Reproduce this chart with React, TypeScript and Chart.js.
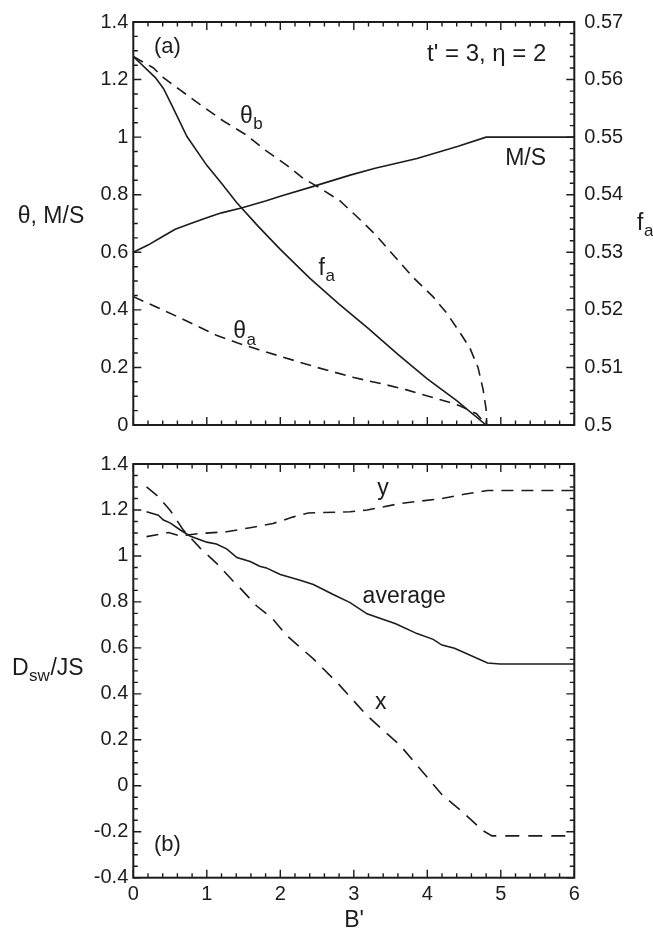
import React, { useEffect, useRef } from "react";
import { Chart, registerables } from "chart.js";
Chart.register(...registerables);

// ---------- Panel (a) data ----------
const msB = [0, 0.2, 0.4, 0.57, 0.8, 1.0, 1.2, 1.47, 1.81, 2.0, 2.45, 2.95, 3.29, 3.86, 4.42, 4.8, 6];
const msVal = [0.6, 0.625, 0.655, 0.68, 0.702, 0.72, 0.737, 0.754, 0.779, 0.795, 0.829, 0.868, 0.892, 0.926, 0.968, 1.0, 1.0];

const faB = [0, 0.3, 0.41, 0.52, 0.73, 1.0, 1.2, 1.4, 1.7, 2.0, 2.4, 2.8, 3.2, 3.6, 4.0, 4.4, 4.8, 6];
const faVal = [0.564, 0.56035, 0.55845, 0.55565, 0.5501, 0.5451, 0.542, 0.53875, 0.5345, 0.5305, 0.5255, 0.521, 0.51675, 0.51225, 0.508, 0.50425, 0.5, 0.5];

const thbB = [0, 0.27, 0.41, 0.64, 0.91, 1.22, 1.54, 1.81, 2.09, 2.31, 2.54, 2.81, 3.1, 3.3, 3.54, 3.81, 4.08, 4.26, 4.44, 4.58, 4.69, 4.76, 4.8, 4.81, 6];
const thbVal = [1.28, 1.241, 1.207, 1.163, 1.113, 1.057, 1.007, 0.952, 0.902, 0.857, 0.823, 0.779, 0.71, 0.66, 0.59, 0.512, 0.445, 0.39, 0.323, 0.267, 0.2, 0.122, 0.055, 0, 0];

const thaB = [0, 0.57, 1.13, 1.42, 1.7, 2.5, 3.0, 3.45, 3.72, 4.04, 4.31, 4.44, 4.67, 4.8, 6];
const thaVal = [0.446, 0.38, 0.312, 0.285, 0.262, 0.2, 0.165, 0.139, 0.122, 0.098, 0.078, 0.067, 0.039, 0, 0];

// ---------- Panel (b) data ----------
const avgB = [0.18, 0.34, 0.41, 0.5, 0.64, 0.77, 1.0, 1.13, 1.27, 1.41, 1.59, 1.72, 1.81, 2.0, 2.27, 2.45, 2.72, 2.95, 3.18, 3.57, 3.86, 4.08, 4.2, 4.37, 4.82, 4.99, 6];
const avgVal = [1.192, 1.177, 1.156, 1.144, 1.113, 1.087, 1.06, 1.052, 1.031, 0.993, 0.976, 0.955, 0.948, 0.919, 0.894, 0.876, 0.832, 0.797, 0.748, 0.705, 0.662, 0.637, 0.612, 0.598, 0.534, 0.53, 0.53];

const xB = [0.18, 0.32, 0.5, 0.68, 0.91, 1.13, 1.36, 1.45, 1.68, 1.9, 2.09, 2.45, 2.8, 3.18, 3.63, 4.2, 4.5, 4.76, 4.88, 6];
const xVal = [1.3, 1.264, 1.199, 1.113, 1.034, 0.969, 0.89, 0.861, 0.782, 0.725, 0.653, 0.552, 0.44, 0.305, 0.176, -0.039, -0.12, -0.196, -0.218, -0.218];

const yB = [0.18, 0.48, 0.64, 0.91, 1.27, 1.59, 1.9, 2.18, 2.38, 2.95, 3.18, 3.63, 4.2, 4.5, 4.82, 6];
const yVal = [1.084, 1.102, 1.087, 1.098, 1.105, 1.123, 1.141, 1.17, 1.187, 1.192, 1.2, 1.228, 1.25, 1.268, 1.285, 1.285];

// ---------- axes ----------
const xRange = [0, 6];
const topLeftRange = [0, 1.4];
const topRightRange = [0.5, 0.57];
const botLeftRange = [-0.4, 1.4];

const FONT = '"Liberation Sans", Arial, Helvetica, sans-serif';
const INK = "#1c1c1c";

const pts = (xs: number[], ys: number[]) => xs.map((x, i) => ({ x, y: ys[i] }));
const fmt = (v: any) => String(Math.round(Number(v) * 1000) / 1000);

type Label = { text: string; sub?: string; tail?: string; x: number; y: number; data?: boolean; size: number; align?: CanvasTextAlign; axis?: string };

function textPlugin(labels: Label[]) {
  return {
    id: "texts",
    afterDraw(chart: any) {
      const ctx = chart.ctx as CanvasRenderingContext2D;
      ctx.save();
      ctx.fillStyle = INK;
      ctx.textBaseline = "alphabetic";
      for (const l of labels) {
        let px = l.x, py = l.y;
        if (l.data) {
          px = chart.scales.x.getPixelForValue(l.x);
          py = chart.scales[l.axis || "y"].getPixelForValue(l.y);
        }
        ctx.font = `${l.size}px ${FONT}`;
        const wMain = ctx.measureText(l.text).width;
        const subSize = Math.round(l.size * 0.72);
        ctx.font = `${subSize}px ${FONT}`;
        const wSub = l.sub ? ctx.measureText(l.sub).width : 0;
        ctx.font = `${l.size}px ${FONT}`;
        const wTail = l.tail ? ctx.measureText(l.tail).width : 0;
        const total = wMain + wSub + wTail;
        let x0 = px;
        if (l.align === "center") x0 = px - total / 2;
        else if (l.align === "right") x0 = px - total;
        ctx.textAlign = "left";
        ctx.font = `${l.size}px ${FONT}`;
        ctx.fillText(l.text, x0, py);
        if (l.sub) {
          ctx.font = `${subSize}px ${FONT}`;
          ctx.fillText(l.sub, x0 + wMain + 0.5, py + l.size * 0.28);
        }
        if (l.tail) {
          ctx.font = `${l.size}px ${FONT}`;
          ctx.fillText(l.tail, x0 + wMain + wSub + 1, py);
        }
      }
      ctx.restore();
    },
  };
}

function framePlugin(rightAxis: string) {
  return {
    id: "frame",
    afterDraw(chart: any) {
      const ctx = chart.ctx as CanvasRenderingContext2D;
      const a = chart.chartArea;
      const sx = chart.scales.x;
      const sy = chart.scales.y;
      const sr = chart.scales[rightAxis];
      ctx.save();
      ctx.strokeStyle = INK;
      ctx.lineWidth = 1.4;
      ctx.beginPath();
      const MAJ = 8, MIN = 4.5;
      const nx = Math.round((sx.max - sx.min) / 0.2);
      for (let i = 0; i <= nx; i++) {
        const p = sx.getPixelForValue(sx.min + i * 0.2);
        const len = i % 5 === 0 ? MAJ : MIN;
        ctx.moveTo(p, a.bottom); ctx.lineTo(p, a.bottom - len);
        ctx.moveTo(p, a.top); ctx.lineTo(p, a.top + len);
      }
      const ny = Math.round((sy.max - sy.min) / 0.05);
      for (let i = 0; i <= ny; i++) {
        const p = sy.getPixelForValue(sy.min + i * 0.05);
        const len = i % 4 === 0 ? MAJ : MIN;
        ctx.moveTo(a.left, p); ctx.lineTo(a.left + len, p);
        if (rightAxis === "y") { ctx.moveTo(a.right, p); ctx.lineTo(a.right - len, p); }
      }
      if (rightAxis !== "y") {
        const nr = Math.round((sr.max - sr.min) / 0.002);
        for (let i = 0; i <= nr; i++) {
          const p = sr.getPixelForValue(sr.min + i * 0.002);
          const len = i % 5 === 0 ? MAJ : MIN;
          ctx.moveTo(a.right, p); ctx.lineTo(a.right - len, p);
        }
      }
      ctx.stroke();
      ctx.lineWidth = 2;
      ctx.strokeRect(a.left, a.top, a.right - a.left, a.bottom - a.top);
      ctx.restore();
    },
  };
}

const tickFont = { family: FONT, size: 20 };

function lineDs(data: any[], dash: number[], axis = "y") {
  return {
    data,
    yAxisID: axis,
    borderColor: INK,
    borderWidth: 1.6,
    borderDash: dash,
    pointRadius: 0,
    tension: 0,
    fill: false,
  };
}

export default function App() {
  const topRef = useRef<HTMLCanvasElement>(null);
  const botRef = useRef<HTMLCanvasElement>(null);

  useEffect(() => {
    const topLabels: Label[] = [
      { text: "(a)", x: 0.28, y: 1.294, data: true, size: 22 },
      { text: "t' = 3, η = 2", x: 5.62, y: 1.266, data: true, size: 24, align: "right" },
      { text: "θ", sub: "b", x: 1.45, y: 1.049, data: true, size: 23 },
      { text: "M/S", x: 5.06, y: 0.904, data: true, size: 23 },
      { text: "f", sub: "a", x: 2.52, y: 0.522, data: true, size: 23 },
      { text: "θ", sub: "a", x: 1.36, y: 0.301, data: true, size: 23 },
      { text: "θ, M/S", x: 51, y: 223, size: 23, align: "center" },
      { text: "f", sub: "a", x: 637, y: 230, size: 23 },
    ];
    const botLabels: Label[] = [
      { text: "y", x: 3.32, y: 1.267, data: true, size: 23 },
      { text: "average", x: 3.12, y: 0.794, data: true, size: 23 },
      { text: "x", x: 3.29, y: 0.333, data: true, size: 23 },
      { text: "(b)", x: 0.28, y: -0.283, data: true, size: 22 },
      { text: "D", sub: "sw", tail: "/JS", x: 12, y: 228, size: 23 },
      { text: "B'", x: 354, y: 480, size: 23, align: "center" },
    ];

    const top = new Chart(topRef.current!, {
      type: "line",
      data: {
        datasets: [
          lineDs(pts(msB, msVal), []),
          lineDs(pts(faB, faVal), [], "y1"),
          lineDs(pts(thbB, thbVal), [11, 7]),
          lineDs(pts(thaB, thaVal), [11, 7]),
        ] as any,
      },
      options: {
        animation: false,
        responsive: false,
        events: [],
        layout: { padding: { top: 14, bottom: 13.7, left: 0, right: 0 } },
        plugins: { legend: { display: false }, tooltip: { enabled: false } },
        scales: {
          x: { type: "linear", min: xRange[0], max: xRange[1], display: false },
          y: {
            type: "linear", position: "left", min: topLeftRange[0], max: topLeftRange[1],
            grid: { display: false, drawTicks: false }, border: { display: false },
            ticks: { stepSize: 0.2, font: tickFont, color: INK, padding: 5, callback: fmt },
            afterFit: (s: any) => { s.width = 133.3; },
          },
          y1: {
            type: "linear", position: "right", min: topRightRange[0], max: topRightRange[1],
            grid: { display: false, drawTicks: false }, border: { display: false },
            ticks: { stepSize: 0.01, font: tickFont, color: INK, padding: 10, callback: fmt },
            afterFit: (s: any) => { s.width = 78.7; },
          },
        },
      } as any,
      plugins: [framePlugin("y1"), textPlugin(topLabels)],
    });

    const bot = new Chart(botRef.current!, {
      type: "line",
      data: {
        datasets: [
          lineDs(pts(avgB, avgVal), []),
          lineDs(pts(xB, xVal), [14, 9]),
          lineDs(pts(yB, yVal), [12, 8]),
        ] as any,
      },
      options: {
        animation: false,
        responsive: false,
        events: [],
        layout: { padding: { top: 13, bottom: 0, left: 0, right: 78.7 } },
        plugins: { legend: { display: false }, tooltip: { enabled: false } },
        scales: {
          x: {
            type: "linear", min: xRange[0], max: xRange[1],
            grid: { display: false, drawTicks: false }, border: { display: false },
            ticks: { stepSize: 1, font: tickFont, color: INK, padding: 5, maxRotation: 0, autoSkip: false, callback: fmt },
            afterFit: (s: any) => { s.height = 55.3; },
          },
          y: {
            type: "linear", position: "left", min: botLeftRange[0], max: botLeftRange[1],
            grid: { display: false, drawTicks: false }, border: { display: false },
            ticks: { stepSize: 0.2, font: tickFont, color: INK, padding: 5, callback: fmt },
            afterFit: (s: any) => { s.width = 133.3; },
          },
        },
      } as any,
      plugins: [framePlugin("y"), textPlugin(botLabels)],
    });

    return () => { top.destroy(); bot.destroy(); };
  }, []);

  return (
    <div style={{ position: "absolute", left: 0, top: 0, width: 653, height: 933, background: "#fff" }}>
      <canvas ref={topRef} width={653} height={447} style={{ position: "absolute", left: 0, top: 0, display: "block" }} />
      <canvas ref={botRef} width={653} height={486} style={{ position: "absolute", left: 0, top: 447, display: "block" }} />
    </div>
  );
}
